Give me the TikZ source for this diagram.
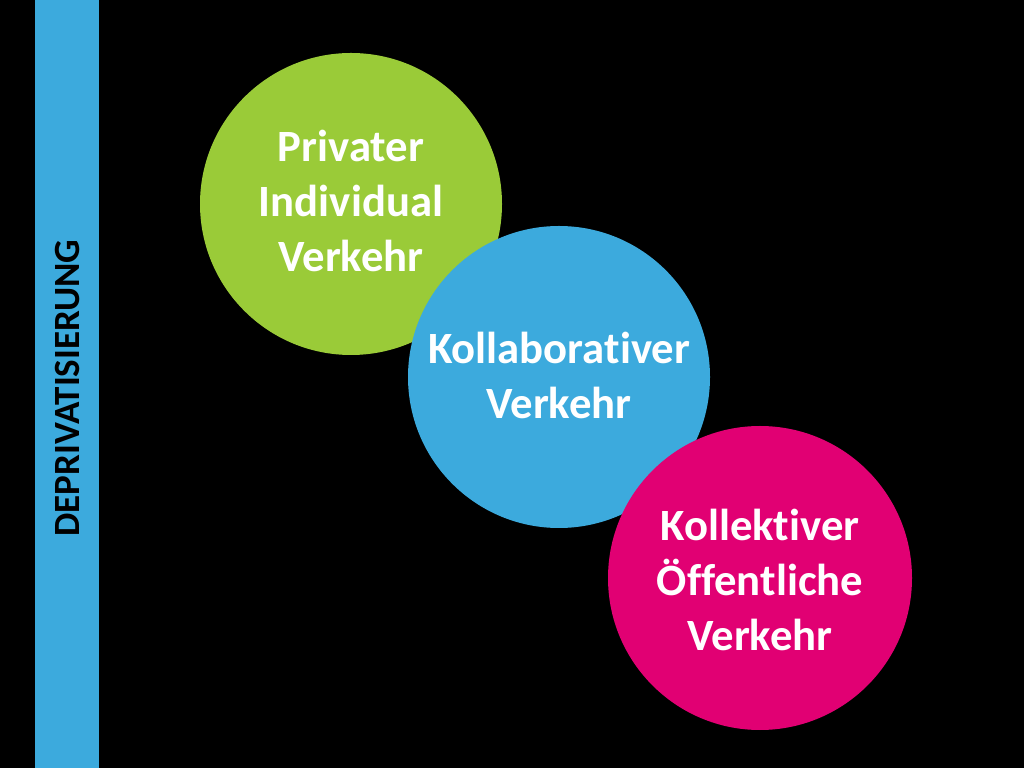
\documentclass[tikz,border=0pt]{standalone}
\usepackage{fontspec}
\setmainfont[Ligatures={CommonOff},RawFeature={-liga;-clig}]{Carlito}
\definecolor{cgreen}{RGB}{154,203,56}
\definecolor{cblue}{RGB}{60,170,221}
\definecolor{cmag}{RGB}{225,0,115}
\tikzset{
  bubble/.style={circle, minimum size=302pt, inner sep=0pt},
  bubbletext/.style={text=white, align=center, font=\fontsize{44.7}{55}\selectfont\bfseries},
}
\begin{document}
\begin{tikzpicture}[x=1pt,y=1pt]
\fill[black] (0,0) rectangle (1024,768);
\useasboundingbox (0,0) rectangle (1024,768);
\fill[cblue] (35,0) rectangle (99,768);
\node[rotate=90, font=\fontsize{37}{40}\selectfont\bfseries, text=black] (bar) at (68,380) {DEPRIVATISIERUNG};
\node[bubble, fill=cgreen] (priv) at (351,564) {};
\node[bubbletext] (privtext) at (priv.center) [yshift=3pt] {Privater\\Individual\\Verkehr};
\node[bubble, fill=cblue] (koll) at (559,391) {};
\node[bubbletext] (kolltext) at (koll.center) [yshift=2pt] {Kollaborativer\\Verkehr};
\node[bubble, fill=cmag, minimum size=304pt] (kollekt) at (760,190) {};
\node[bubbletext] (kollekttext) at (kollekt.center) [yshift=-2pt] {Kollektiver\\Öffentliche\\Verkehr};
\end{tikzpicture}
\end{document}
